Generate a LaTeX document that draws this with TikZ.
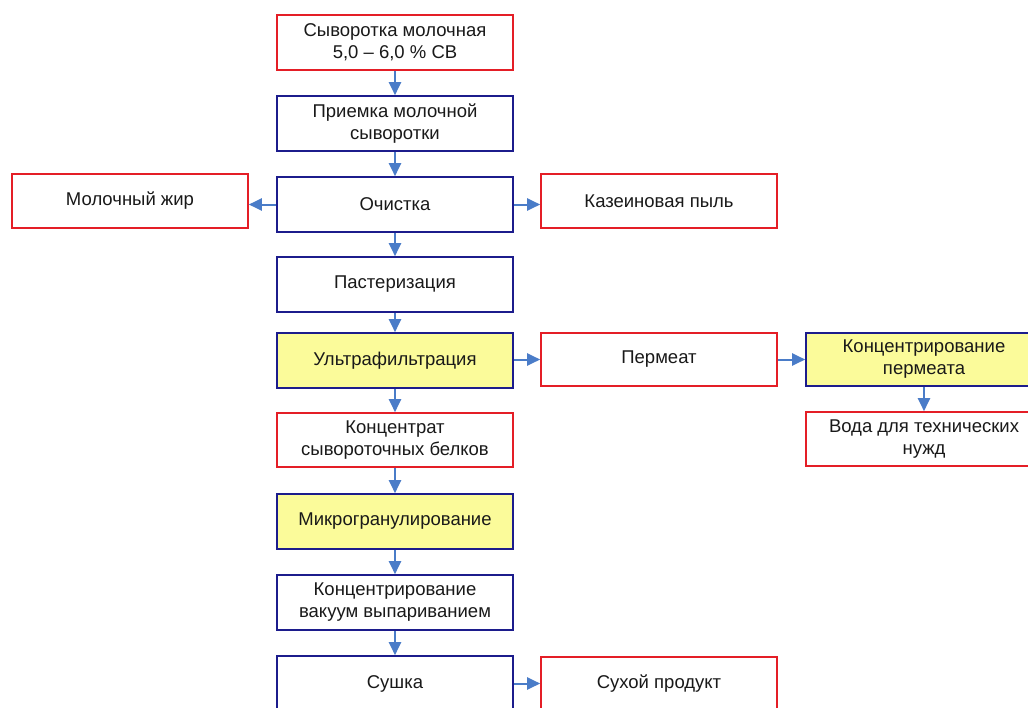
\documentclass[tikz,border=0pt]{standalone}
\usepackage{fontspec}
\setmainfont{Liberation Sans}
\usetikzlibrary{arrows.meta}
\definecolor{bred}{HTML}{E41E26}
\definecolor{bblue}{HTML}{1C1C8C}
\definecolor{byel}{HTML}{FBFB9A}
\definecolor{arrc}{HTML}{4A7CC8}
\tikzset{
  box/.style={rectangle, draw, line width=1.6pt, minimum width=236pt, minimum height=55pt,
    inner sep=0pt, align=center, font=\fontsize{18.5}{22}\selectfont, text=black!90},
  redbox/.style={box, draw=bred, fill=white},
  bluebox/.style={box, draw=bblue, fill=white},
  yelbox/.style={box, draw=bblue, fill=byel},
  arr/.style={draw=arrc, line width=2pt, -{Triangle[length=13pt,width=12pt]}, arrc}
}
\begin{document}
\begin{tikzpicture}[x=1pt,y=-1pt]
\useasboundingbox (0,0) rectangle (1028,707);
\clip (0,0) rectangle (1028,707);
\fill[white] (0,0) rectangle (1028,707);
\node[redbox] (top) at (395,42.5) {Сыворотка молочная\\5,0 – 6,0 \% СВ};
\node[bluebox] (priem) at (395,123.5) {Приемка молочной\\сыворотки};
\node[bluebox] (ochist) at (395,204.5) {Очистка};
\node[redbox, minimum height=54pt] (zhir) at (130,201) {Молочный жир};
\node[redbox, minimum height=54pt] (kazein) at (659,201) {Казеиновая пыль};
\node[bluebox] (paster) at (395,284.5) {Пастеризация};
\node[yelbox] (ultra) at (395,360.5) {Ультрафильтрация};
\node[redbox, minimum height=53pt] (permeat) at (659,359.5) {Пермеат};
\node[yelbox, minimum height=53pt] (kperm) at (924,359.5) {Концентрирование\\пермеата};
\node[redbox, minimum height=54pt] (voda) at (924,439) {Вода для технических\\нужд};
\node[redbox, minimum height=54pt] (kbel) at (395,440) {Концентрат\\сывороточных белков};
\node[yelbox] (mikro) at (395,521.5) {Микрогранулирование};
\node[bluebox] (vakuum) at (395,602.5) {Концентрирование\\вакуум выпариванием};
\node[bluebox] (sushka) at (395,683.5) {Сушка};
\node[redbox, minimum height=54pt] (sukhoy) at (659,684) {Сухой продукт};

\draw[arr] (top) -- (priem);
\draw[arr] (priem) -- (ochist);
\draw[arr] (ochist) -- (paster);
\draw[arr] (paster) -- (ultra);
\draw[arr] (ultra) -- (kbel);
\draw[arr] (kbel) -- (mikro);
\draw[arr] (mikro) -- (vakuum);
\draw[arr] (vakuum) -- (sushka);
\draw[arr] (ochist.west) -- (ochist.west -| zhir.east);
\draw[arr] (ochist.east) -- (ochist.east -| kazein.west);
\draw[arr] (permeat.west -| ultra.east) -- (permeat.west);
\draw[arr] (permeat) -- (kperm);
\draw[arr] (kperm) -- (voda);
\draw[arr] (sushka.east) -- (sushka.east -| sukhoy.west);
\end{tikzpicture}
\end{document}
